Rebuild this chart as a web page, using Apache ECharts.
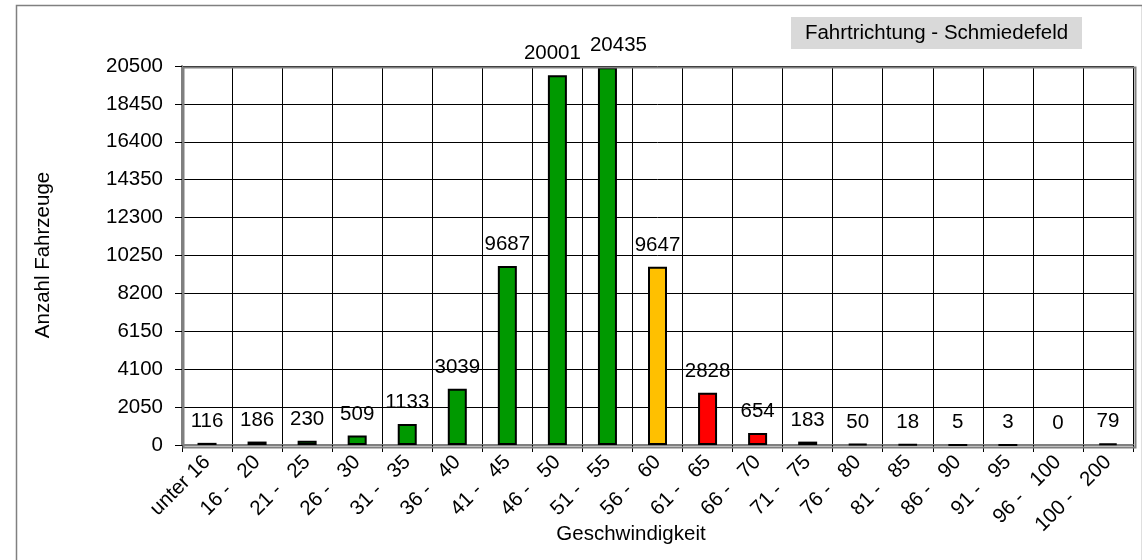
<!DOCTYPE html>
<html>
<head>
<meta charset="utf-8">
<script src="https://cdn.jsdelivr.net/npm/echarts@6/dist/echarts.min.js"></script>
<style>
html,body{margin:0;padding:0;background:#fff;}
#chart{width:1142px;height:560px;}
</style>
</head>
<body>
<div id="chart"></div>
<script>
const categories = ["unter 16", "16 -   20", "21 -   25", "26 -   30", "31 -   35", "36 -   40", "41 -   45", "46 -   50", "51 -   55", "56 -   60", "61 -   65", "66 -   70", "71 -   75", "76 -   80", "81 -   85", "86 -   90", "91 -   95", "96 -   100", "100 -   200"];
const counts = [116, 186, 230, 509, 1133, 3039, 9687, 20001, 20435, 9647, 2828, 654, 183, 50, 18, 5, 3, 0, 79];
const zone = ["ok","ok","ok","ok","ok","ok","ok","ok","ok","warn","over","over","over","over","over","over","over","over","over"];
const yTicks = [0, 2050, 4100, 6150, 8200, 10250, 12300, 14350, 16400, 18450, 20500];
const yTitle = "Anzahl Fahrzeuge";
const xTitle = "Geschwindigkeit";
const noteText = "Fahrtrichtung - Schmiedefeld";

const zoneColor = {ok: "#009900", warn: "#FFC000", over: "#FF0000"};
const labelShift = {7: [-5, 0], 8: [11, 0]};
const FONT = "Liberation Sans, Arial, sans-serif";
const FS = 20.5;

const seriesData = counts.map((v, i) => {
  const item = {
    value: v,
    itemStyle: {color: zoneColor[zone[i]], borderColor: "#000", borderWidth: v === 0 ? 0 : 2}
  };
  if (labelShift[i]) item.label = {offset: labelShift[i]};
  return item;
});

const chart = echarts.init(document.getElementById("chart"), null, {renderer: "canvas"});
chart.setOption({
  animation: false,
  backgroundColor: "#ffffff",
  textStyle: {fontFamily: FONT},
  grid: {left: 182, top: 66, right: 9, bottom: 115, containLabel: false},
  xAxis: {
    type: "category",
    data: categories,
    axisLine: {show: true, lineStyle: {color: "#808080", width: 2}},
    axisTick: {show: true, alignWithLabel: false, length: 7, lineStyle: {color: "#000", width: 1}},
    splitLine: {show: true, interval: 0, lineStyle: {color: "#000", width: 1}},
    axisLabel: {interval: 0, rotate: 45, margin: 14, color: "#000", fontSize: FS, fontFamily: FONT}
  },
  yAxis: {
    type: "value",
    min: yTicks[0],
    max: yTicks[yTicks.length - 1],
    interval: yTicks[1] - yTicks[0],
    axisLine: {show: true, lineStyle: {color: "#808080", width: 2}},
    axisTick: {show: true, length: 7, lineStyle: {color: "#000", width: 1}},
    splitLine: {show: true, lineStyle: {color: "#000", width: 1}},
    axisLabel: {margin: 19, color: "#000", fontSize: FS, fontFamily: FONT, formatter: v => String(v)}
  },
  series: [{
    type: "bar",
    data: seriesData,
    barWidth: 19,
    label: {show: true, position: "top", distance: 11, color: "#000", fontSize: FS, fontFamily: FONT},
    z: 3
  }],
  graphic: [
    {type: "rect", left: 14, top: 3, z: 0, silent: true,
     shape: {width: 1126, height: 580}, style: {fill: null, stroke: "#808080", lineWidth: 1.5}},
    {type: "rect", left: 181, top: 65, z: 10, silent: true,
     shape: {width: 952, height: 380}, style: {fill: null, stroke: "#808080", lineWidth: 2}},
    {type: "group", left: 791, top: 17, z: 10, children: [
      {type: "rect", shape: {x: 0, y: 0, width: 291, height: 32}, style: {fill: "#d9d9d9"}},
      {type: "text", x: 145.5, y: 16, style: {text: noteText, fill: "#000", font: FS + "px " + FONT, textAlign: "center", textVerticalAlign: "middle"}}
    ]},
    {type: "text", x: 43, y: 255, rotation: Math.PI / 2, z: 10,
     style: {text: yTitle, fill: "#000", font: FS + "px " + FONT, textAlign: "center", textVerticalAlign: "middle"}},
    {type: "text", x: 631, y: 534, z: 10,
     style: {text: xTitle, fill: "#000", font: FS + "px " + FONT, textAlign: "center", textVerticalAlign: "middle"}}
  ]
});
</script>
</body>
</html>
